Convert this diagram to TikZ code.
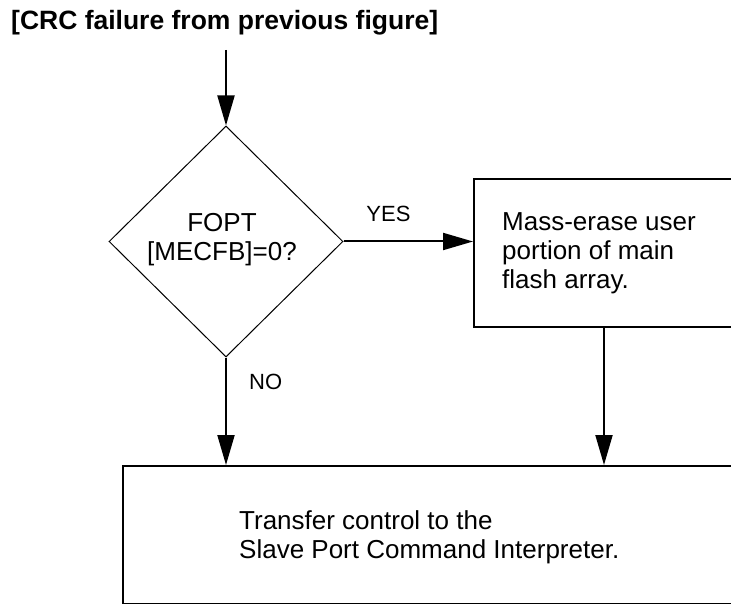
\documentclass[tikz,border=0pt]{standalone}
\usepackage{fontspec}
\setmainfont{Liberation Sans}
\usetikzlibrary{shapes.geometric,arrows.meta}
\begin{document}
\begin{tikzpicture}[x=1pt,y=-1pt,
  boxstyle/.style={draw, line width=2pt, inner sep=0pt},
  bodytext/.style={font=\fontsize{26}{29}\selectfont, inner sep=0pt, align=left},
  lbl/.style={font=\fontsize{22}{26}\selectfont, inner sep=0pt},
  arr/.style={line width=2pt, -{Triangle[length=30pt,width=17pt]}}]
\useasboundingbox (0,0) rectangle (731,604);
\clip (0,0) rectangle (731,604);
% title
\node[anchor=base west, inner sep=0pt, font=\bfseries\fontsize{26.5}{30}\selectfont] (title) at (11,30) {[CRC failure from previous figure]};
\coordinate (start) at (226,50);
% decision
\node[diamond, draw, line width=1pt, minimum width=234pt, minimum height=231pt, inner sep=0pt] (dec) at (226,241.5) {};
\node[font=\fontsize{26}{29}\selectfont, align=center, inner sep=0pt] (dectext) at (222,240) {FOPT\\{[MECFB]=0?}};
% mass erase box
\node[boxstyle, minimum width=260pt, minimum height=148pt] (mass) at (604,253) {};
\node[bodytext, anchor=west] (masstext) at (502,253) {Mass-erase user\\portion of main\\flash array.};
% transfer box
\node[boxstyle, minimum width=640pt, minimum height=138pt, anchor=north west] (xfer) at (122,465) {};
\node[bodytext, anchor=west] (xfertext) at (239,537) {Transfer control to the\\Slave Port Command Interpreter.};
% connectors
\draw[arr] (start) -- (dec.north);
\draw[arr] (dec.east) -- (dec.east -| mass.west);
\draw[arr] (dec.south) -- (dec.south |- xfer.north);
\draw[arr] (mass.south) -- (mass.south |- xfer.north);
% labels
\node[lbl, anchor=base] (yes) at (388.5,221.7) {YES};
\node[lbl, anchor=base west] (no) at (249,389) {NO};
\end{tikzpicture}
\end{document}
